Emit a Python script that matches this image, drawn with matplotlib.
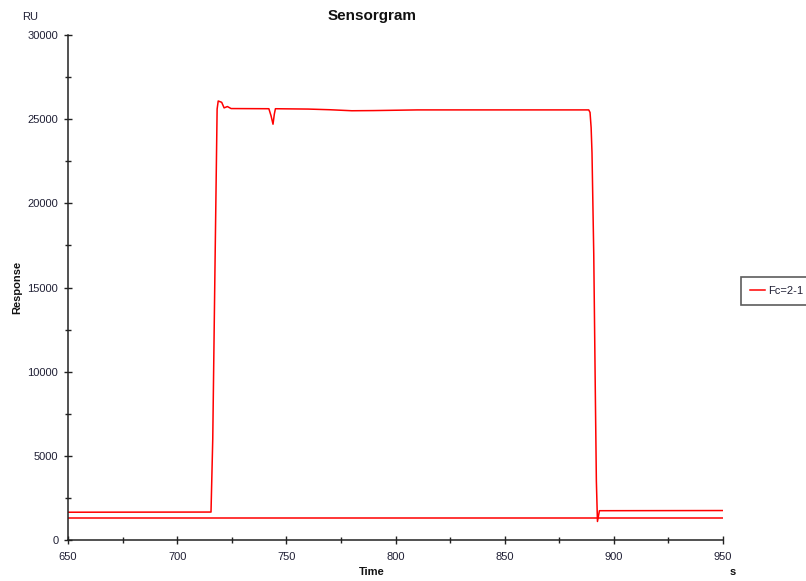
import matplotlib
matplotlib.use("Agg")
import matplotlib.pyplot as plt
from matplotlib.ticker import MultipleLocator

plt.rcParams['font.family'] = ['Liberation Sans', 'DejaVu Sans']

# --- data ---
time_fc = [650, 715.5, 716.3, 717.3, 718.3, 718.8, 720.4, 721.5, 723.0, 724.7,
           742.0, 743.0, 743.9, 744.5, 745.0, 760, 770, 780, 790, 810,
           888.5, 889.1, 889.6, 890.0, 890.8, 891.5, 892.0, 892.5, 893.4, 950]
resp_fc = [1650, 1660, 6000, 16000, 25600, 26080, 26000, 25670, 25750, 25630,
           25620, 25200, 24700, 25300, 25620, 25600, 25560, 25500, 25510, 25550,
           25550, 25400, 24500, 23000, 17000, 9000, 3500, 1100, 1740, 1750]

time_base = [650, 950]
resp_base = [1300, 1300]

series_name = "Fc=2-1"

fig = plt.figure(figsize=(8.06, 5.81), dpi=100)
ax = fig.add_axes([68/806, 41/581, (723-68)/806, (540-35)/581])

ax.plot(time_fc, resp_fc, color='red', lw=1.1, label=series_name)
ax.plot(time_base, resp_base, color='red', lw=1.1)

ax.set_xlim(650, 950)
ax.set_ylim(0, 30000)
ax.xaxis.set_major_locator(MultipleLocator(50))
ax.xaxis.set_minor_locator(MultipleLocator(25))
ax.yaxis.set_major_locator(MultipleLocator(5000))
ax.yaxis.set_minor_locator(MultipleLocator(2500))

for s in ['top', 'right']:
    ax.spines[s].set_visible(False)
for s in ['left', 'bottom']:
    ax.spines[s].set_linewidth(1.1)
    ax.spines[s].set_color('#222222')

lab_col = '#202035'
ax.tick_params(which='major', direction='inout', length=6, width=1.0,
               labelsize=8, colors='#222222', labelcolor=lab_col, pad=4)
ax.tick_params(which='minor', direction='inout', length=4, width=1.0,
               colors='#222222')
ax.tick_params(axis='x', pad=6)

# --- titles / labels ---
fig.text(372/806, 1 - 16/581, "Sensorgram", ha='center', va='center',
         fontsize=11, fontweight='bold', color='#111111')
fig.text(372/806, 1 - 572/581, "Time", ha='center', va='center',
         fontsize=8, fontweight='bold', color='#111111')
fig.text(17/806, 1 - 287/581, "Response", ha='center', va='center',
         rotation=90, fontsize=8, fontweight='bold', color='#111111')
fig.text(30/806, 1 - 17/581, "RU", ha='center', va='center',
         fontsize=8, color=lab_col)
fig.text(733/806, 1 - 572/581, "s", ha='center', va='center',
         fontsize=8, fontweight='bold', color='#111111')

leg = fig.legend(loc='center left', bbox_to_anchor=(741/806, 1 - 291/581),
                 fontsize=8, frameon=True, fancybox=False, handlelength=1.4,
                 borderpad=0.8, borderaxespad=0, handletextpad=0.2)
leg.get_frame().set_edgecolor('#333333')
leg.get_frame().set_linewidth(1.2)
for t in leg.get_texts():
    t.set_color(lab_col)

fig.savefig("out.png", dpi=100)
